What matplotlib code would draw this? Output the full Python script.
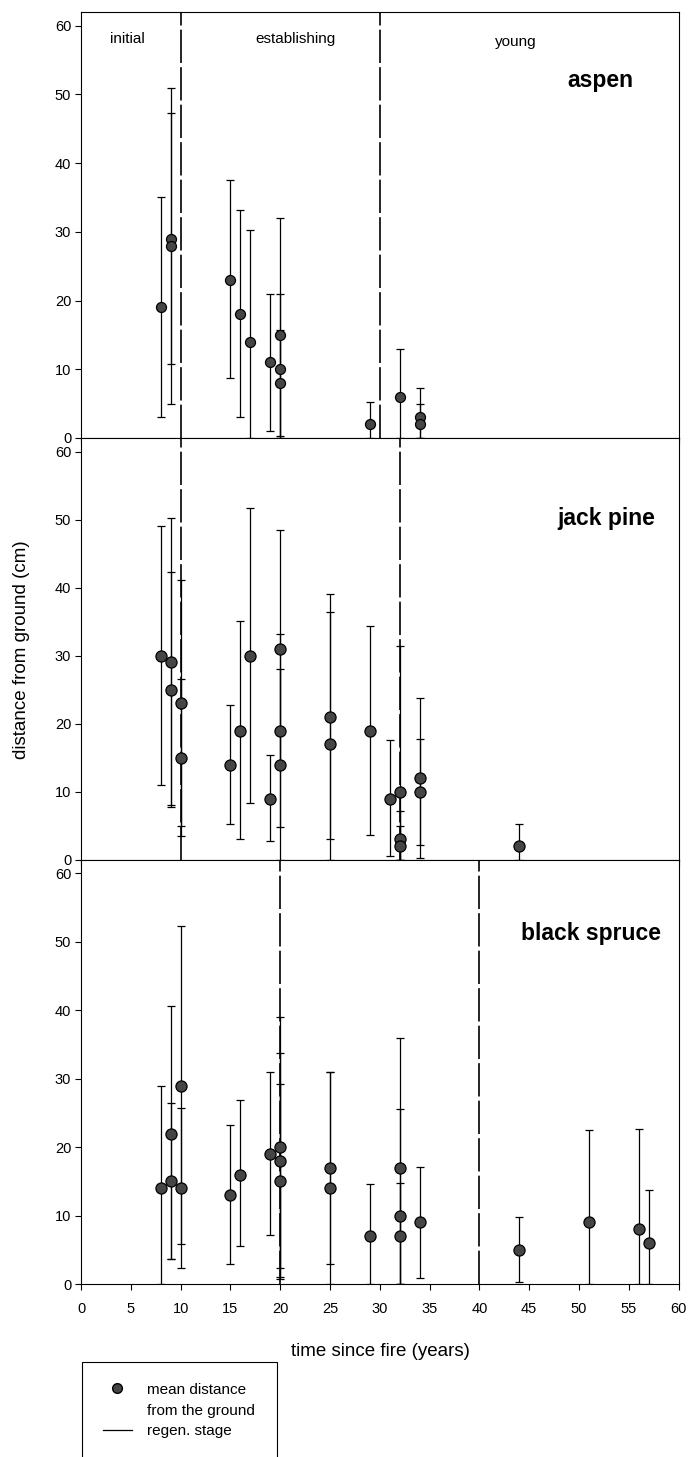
import matplotlib
matplotlib.use("Agg")
import matplotlib.pyplot as plt
from matplotlib.lines import Line2D
from matplotlib.patches import Rectangle
import numpy as np

plt.rcParams['font.family'] = ['Liberation Sans', 'DejaVu Sans']

# aspen: time since fire, mean distance, lower / upper end of the bar
aspen_x = [8, 9, 9, 15, 16, 17, 19, 20, 20, 20, 29, 32, 34, 34]
aspen_mean = [19, 29, 28, 23, 18, 14, 11, 15, 10, 8, 2, 6, 3, 2]
aspen_lo = [3, 5, 10.7, 8.7, 3, 0, 1, 0, 0, 0.3, 0, 0, 0, 0]
aspen_hi = [35, 51, 47.3, 37.5, 33.2, 30.3, 21, 32, 21, 15.7, 5.3, 13, 7.3, 4.9]

# jack pine
pine_x = [8, 9, 9, 10, 10, 15, 16, 17, 19, 20, 20, 20, 25, 25, 29, 31, 32, 32, 32, 34, 34, 44]
pine_mean = [30, 29, 25, 23, 15, 14, 19, 30, 9, 31, 19, 14, 21, 17, 19, 9, 10, 3, 2, 12, 10, 2]
pine_lo = [11, 8, 7.7, 4.9, 3.5, 5.2, 3, 8.3, 2.7, 13.6, 4.8, 0, 3, 0, 3.7, 0.6, 0, 0, 0, 0.2, 2.2, 0]
pine_hi = [49, 50.2, 42.3, 41.1, 26.5, 22.8, 35.1, 51.7, 15.4, 48.4, 33.2, 28.1, 39, 36.4, 34.3,
           17.6, 31.4, 7.1, 4.9, 23.8, 17.8, 5.3]

# black spruce
spruce_x = [8, 9, 9, 10, 10, 15, 16, 19, 20, 20, 20, 25, 25, 29, 32, 32, 32, 34, 44, 51, 56, 57]
spruce_mean = [14, 22, 15, 29, 14, 13, 16, 19, 20, 18, 15, 17, 14, 7, 17, 10, 7, 9, 5, 9, 8, 6]
spruce_lo = [0, 3.6, 3.6, 5.8, 2.4, 2.9, 5.5, 7.2, 1.1, 2.4, 0.8, 3, 0, 0, 0, 0, 0, 0.9, 0.3, 0, 0, 0]
spruce_hi = [29, 40.6, 26.5, 52.3, 25.7, 23.3, 26.9, 31, 39, 33.7, 29.2, 31, 31, 14.6, 36, 25.6,
             14.8, 17.1, 9.8, 22.5, 22.7, 13.7]

# regeneration stage boundaries per species
aspen_stages = [10, 30]
pine_stages = [10, 32]
spruce_stages = [20, 40]

species = ['aspen', 'jack pine', 'black spruce']
stage_names = ['initial', 'establishing', 'young']
x_ticks = list(range(0, 61, 5))
y_ticks = list(range(0, 61, 10))

panels = [
    (aspen_x, aspen_mean, aspen_lo, aspen_hi, aspen_stages),
    (pine_x, pine_mean, pine_lo, pine_hi, pine_stages),
    (spruce_x, spruce_mean, spruce_lo, spruce_hi, spruce_stages),
]

fig = plt.figure(figsize=(6.9, 14.57), dpi=100)

# axes boxes in figure fractions (left, bottom, width, height)
boxes = [
    (0.1174, 0.6994, 0.866, 0.2924),
    (0.1174, 0.4099, 0.866, 0.2895),
    (0.1174, 0.1187, 0.866, 0.2912),
]
name_pos = [(52.2, 51.1), (52.7, 49.2), (51.2, 50.3)]
marker_size = [7.2, 8, 8]

axes = []
for i, (x, m, lo, hi, stages) in enumerate(panels):
    ax = fig.add_axes(boxes[i])
    axes.append(ax)
    x = np.array(x)
    m = np.array(m, dtype=float)
    yerr = [m - np.array(lo), np.array(hi) - m]

    for s in stages:
        ax.axvline(s, color='black', lw=1.2, linestyle=(0, (20, 2.5)), zorder=1)

    ax.errorbar(x, m, yerr=yerr, fmt='o', ms=marker_size[i], mfc='#454545', mec='black',
                mew=0.9, ecolor='black', elinewidth=0.9, capsize=2.8, capthick=0.9, zorder=3)

    ax.set_xlim(0, 60)
    ax.set_ylim(0, 62)
    ax.set_xticks(x_ticks)
    ax.set_yticks(y_ticks)
    ax.tick_params(direction='out', length=4, width=0.8, labelsize=10.5)
    ax.tick_params(axis='x', pad=9)
    ax.tick_params(axis='y', pad=3)
    if i < 2:
        ax.tick_params(axis='x', labelbottom=False)
    for sp in ax.spines.values():
        sp.set_linewidth(0.8)

    ax.text(name_pos[i][0], name_pos[i][1], species[i], fontsize=16.5, fontweight='bold',
            ha='center', va='baseline')

# stage names in the top panel
axes[0].text(4.7, 57.45, stage_names[0], fontsize=11, ha='center', va='baseline')
axes[0].text(21.5, 57.45, stage_names[1], fontsize=11, ha='center', va='baseline')
axes[0].text(43.7, 57.0, stage_names[2], fontsize=11, ha='center', va='baseline')

fig.text(22 / 690, 1 - 650 / 1457, 'distance from ground (cm)', rotation=90,
         fontsize=13.5, ha='center', va='center')
fig.text(380 / 690, 1 - 1352 / 1457, 'time since fire (years)', fontsize=13.5,
         ha='center', va='center')

# legend box (runs off the bottom of the page)
fig.patches.append(Rectangle((82 / 690, -0.02), 195 / 690, 0.02 + 1 - 1362 / 1457,
                             transform=fig.transFigure, fill=False, ec='black', lw=0.8))
handles = [
    Line2D([], [], marker='o', ls='none', ms=7, mfc='#454545', mec='black'),
    Line2D([], [], ls='none'),
    Line2D([], [], color='black', lw=0.9),
]
fig.legend(handles, ['mean distance', 'from the ground', 'regen. stage'],
           loc='upper left', bbox_to_anchor=(92 / 690, 1 - 1372 / 1457), frameon=False,
           fontsize=11, handlelength=1.9, handletextpad=1.0, labelspacing=0.45,
           borderpad=0.2)

fig.savefig('out.png', dpi=100)
